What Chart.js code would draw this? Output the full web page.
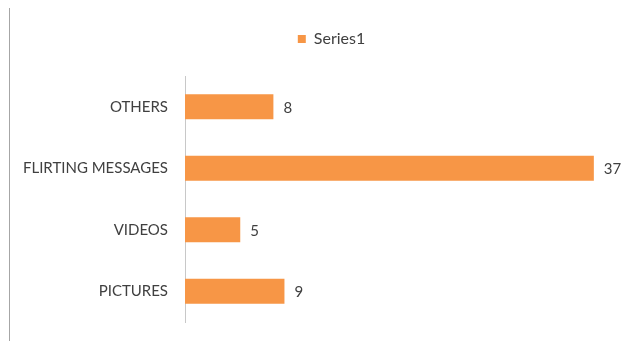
<!DOCTYPE html>
<html lang="en">
<head>
<meta charset="UTF-8">
<title>Series1</title>
<script src="https://cdn.jsdelivr.net/npm/chart.js"></script>
<style>
  html, body { margin: 0; padding: 0; background: #fff; }
  #wrap { width: 634px; height: 341px; position: relative; }
</style>
</head>
<body>
<div id="wrap"><canvas id="barChart" width="634" height="341"></canvas></div>
<script>
// dados do gráfico
const categories = ['OTHERS', 'FLIRTING MESSAGES', 'VIDEOS', 'PICTURES'];
const seriesName = 'Series1';
const seriesValues = [8, 37, 5, 9];

const FONT = 'Lato, "Liberation Sans", sans-serif';
const TEXT = '#404040';

// rótulos de valor à direita das barras + linha da borda esquerda
const extras = {
  id: 'extras',
  afterLayout(chart) {
    // legenda um pouco à direita, como no original
    chart.legend.left += 18;
    chart.legend.right += 18;
  },
  afterDatasetsDraw(chart) {
    const ctx = chart.ctx;
    const meta = chart.getDatasetMeta(0);
    ctx.save();
    ctx.font = '15px ' + FONT;
    ctx.fillStyle = TEXT;
    ctx.textBaseline = 'middle';
    ctx.textAlign = 'left';
    meta.data.forEach((bar, i) => {
      ctx.fillText(String(seriesValues[i]), bar.x + 10, bar.y + 1);
    });
    ctx.strokeStyle = '#a6a6a6';
    ctx.lineWidth = 1;
    ctx.beginPath();
    ctx.moveTo(9.5, 8);
    ctx.lineTo(9.5, 341);
    ctx.stroke();
    ctx.restore();
  }
};

new Chart(document.getElementById('barChart').getContext('2d'), {
  type: 'bar',
  data: {
    labels: categories,
    datasets: [{
      label: seriesName,
      data: seriesValues,
      backgroundColor: '#F79646',
      borderWidth: 0,
      barPercentage: 0.8,
      categoryPercentage: 0.51
    }]
  },
  options: {
    indexAxis: 'y',
    responsive: false,
    animation: false,
    layout: { padding: { top: 12, right: 7, bottom: 19, left: 0 } },
    scales: {
      x: {
        position: 'top', min: 0, max: 40,
        grid: { display: false }, border: { display: false }, ticks: { display: false },
        afterFit(scale) { scale.height = 19; }
      },
      y: {
        grid: { display: false, drawTicks: false },
        border: { display: true, color: '#c8c8c8', width: 1 },
        ticks: { color: TEXT, font: { family: FONT, size: 15 }, padding: 17 },
        afterFit(scale) {
          scale.width = 185;
          scale.paddingTop = 0;
          scale.paddingBottom = 0;
        }
      }
    },
    plugins: {
      legend: {
        position: 'top',
        labels: { color: TEXT, font: { family: FONT, size: 16 }, boxWidth: 8, boxHeight: 8, padding: 19 }
      },
      tooltip: { enabled: false }
    }
  },
  plugins: [extras]
});
</script>
</body>
</html>
